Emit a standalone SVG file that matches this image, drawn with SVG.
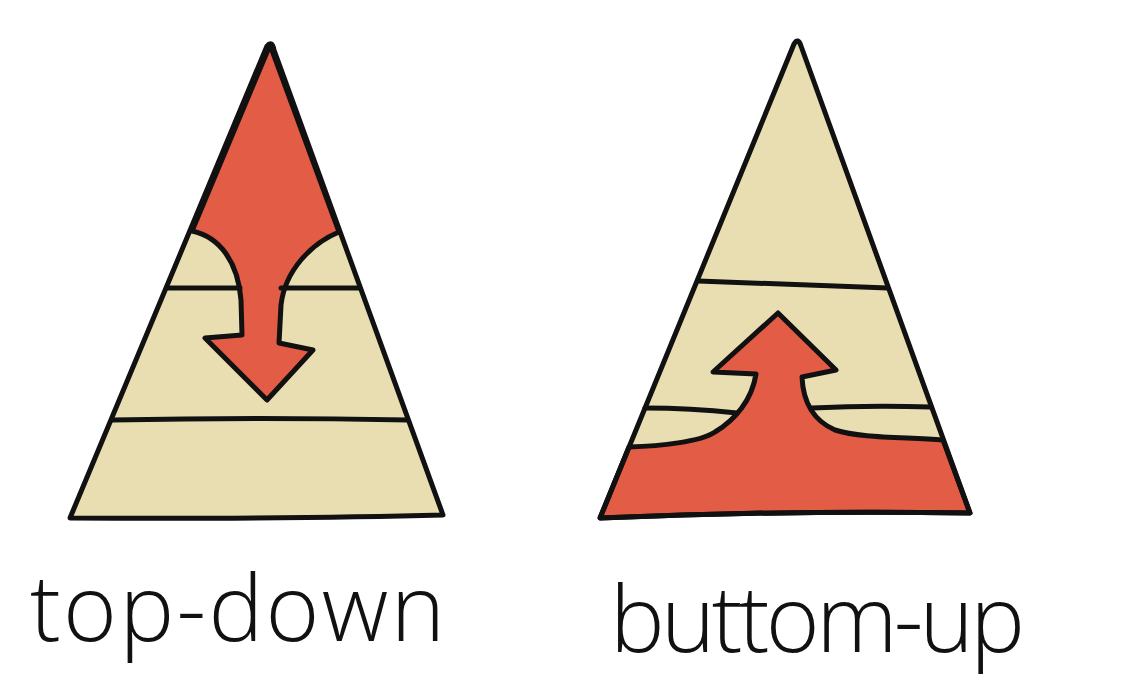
<svg xmlns="http://www.w3.org/2000/svg" width="1130" height="684" viewBox="0 0 1130 684">
<style>
.beige{fill:#E9DEB2;stroke:none}
.red{fill:#E35C45;stroke:#111;stroke-width:5;stroke-linejoin:round}
.ink{fill:none;stroke:#111;stroke-width:5;stroke-linecap:round;stroke-linejoin:round}
.label{font-family:"Open Sans","Liberation Sans",sans-serif;font-weight:300;font-size:92px;fill:#111}
</style>
<rect width="1130" height="684" fill="#fff"/>
<g id="pyramid-top-down">
<path class="beige" d="M270,45 L443,515 Q300,519 70,518 Z"/>
<path class="red" d="M270,45 L339,232 C312,243 285,270 281,305 L279,343 L313,350 L267,400 L205,338 L242,335 L241,300 C238,262 220,237 192,231 Z"/>
<path class="ink" d="M168,288 L240,288 M281,288 L359,288"/>
<path class="ink" d="M112,420 Q260,417 408,420"/>
<path class="ink" d="M267,46 Q272,40 274,50 L443,515 Q300,519 70,518 Z"/>
</g>
<g id="pyramid-bottom-up">
<path class="beige" d="M797,42 L970,513 Q790,510 600,518 Z"/>
<path class="red" d="M629,447 C660,446 700,442 715,432 C735,420 752,400 756,374 L713,372 L778,313 L836,370 L802,377 C803,400 812,420 835,430 C860,438 900,437 943,440 L970,513 Q790,510 600,518 Z"/>
<path class="ink" d="M698,281 Q790,284 888,288"/>
<path class="ink" d="M645,408 Q690,408 737,413 M812,408 Q870,405 931,407"/>
<path class="ink" d="M794,44 Q798,37 801,46 L970,513 Q790,510 600,518 Z"/>
</g>
<g id="labels">
<text class="label" x="30" y="641" textLength="415" lengthAdjust="spacing">top-down</text>
<text class="label" x="610" y="652" textLength="415" lengthAdjust="spacing">buttom-up</text>
</g>
</svg>
